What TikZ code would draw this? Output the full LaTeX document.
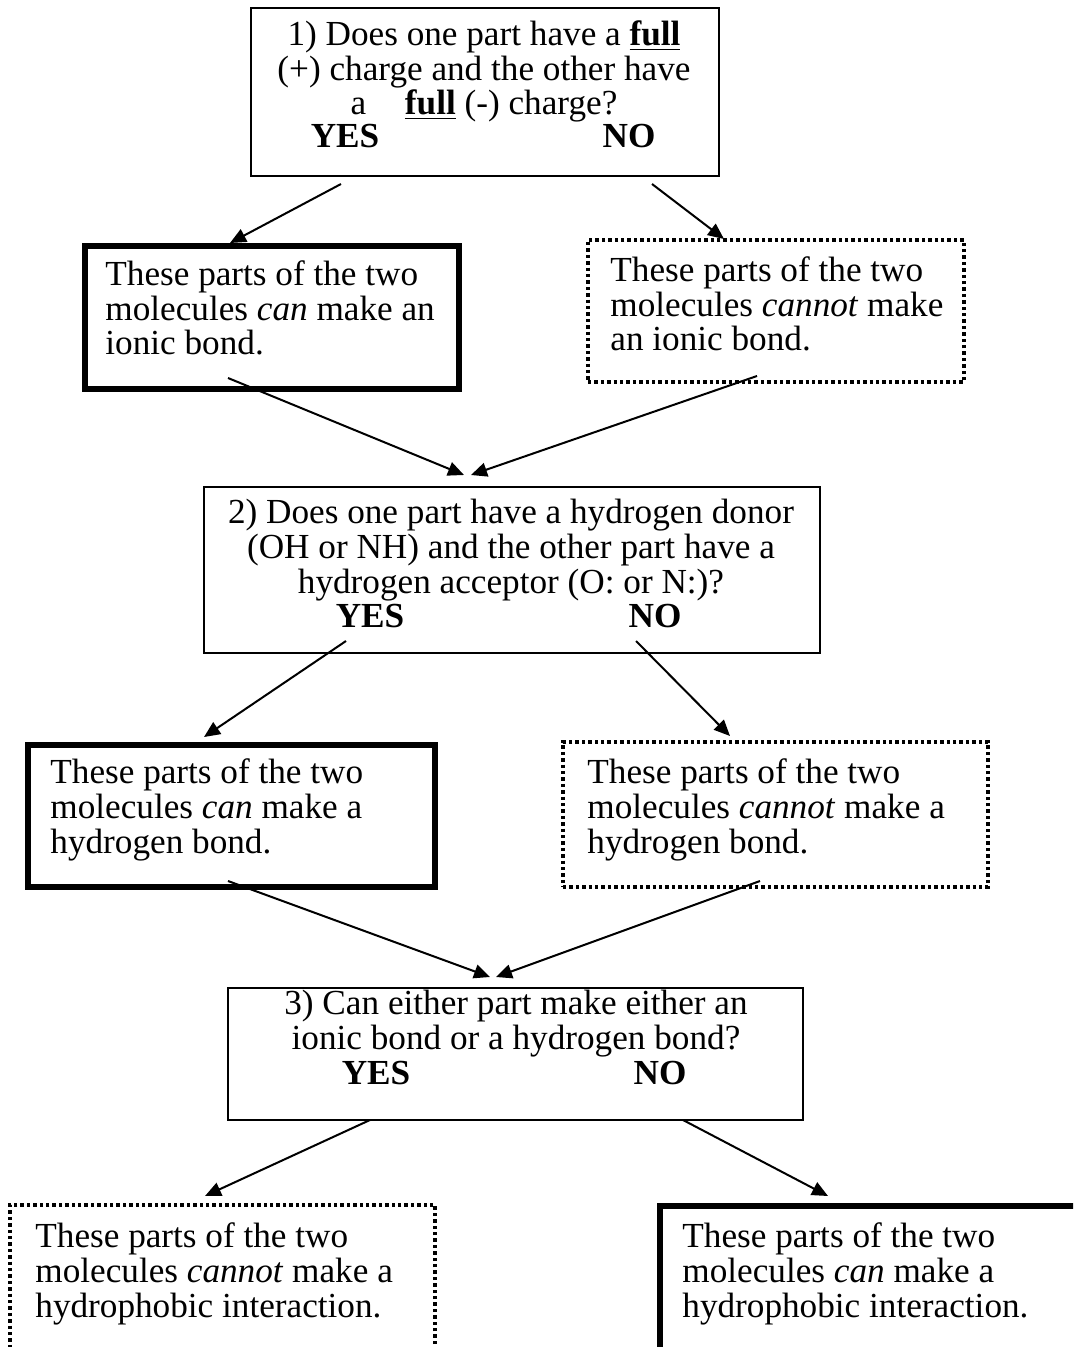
\documentclass[tikz,border=0pt]{standalone}
\usepackage{fontspec}
\setmainfont{Liberation Serif}
\usepackage{tikz}
\usetikzlibrary{arrows.meta}
\tikzset{
  qBox/.style={draw,line width=1pt,inner sep=0pt,outer sep=0pt,anchor=north west},
  canBox/.style={qBox,line width=3pt},
  cannotBox/.style={qBox,line width=1.9pt,dash pattern=on 1.7pt off 1.5pt},
  qText/.style={font=\fontsize{17.6}{17.3}\selectfont,align=center,inner sep=0pt,anchor=base},
  bText/.style={font=\fontsize{17.6}{17.3}\selectfont,align=left,inner sep=0pt,anchor=base west},
  ynText/.style={font=\fontsize{17.6}{17.3}\selectfont\bfseries,inner sep=0pt,anchor=base},
  arr/.style={line width=1pt,-{Triangle[length=8pt,width=7pt]}},
}

\begin{document}
\begin{tikzpicture}[x=.5pt,y=-.5pt]
\useasboundingbox (0,0) rectangle (1073,1347);
\clip (0,0) rectangle (1073,1347);
% question 1
\node[qBox,minimum width=234pt,minimum height=84pt] (q1) at (251,8) {};
\node[qText] (q1txt) at (484,115) {1) Does one part have a \underline{\textbf{full}}\\
  (+) charge and the other have\\ a\hspace{1.1em}\underline{\textbf{full}} (-) charge?};
\node[ynText] (yes1) at (345,148) {YES};
\node[ynText] (no1) at (629,148) {NO};
\node[canBox,minimum width=187pt,minimum height=71.5pt] (ionicCan) at (85,246) {};
\node[bText] (ionicCanTxt) at (105,355) {These parts of the two\\
  molecules \textit{can} make an\\ ionic bond.};
\node[cannotBox,minimum width=188pt,minimum height=71pt] (ionicCannot) at (588,240) {};
\node[bText] (ionicCannotTxt) at (610,351) {These parts of the two\\
  molecules \textit{cannot} make\\ an ionic bond.};
% question 2
\node[qBox,minimum width=308pt,minimum height=83pt] (q2) at (204,487) {};
\node[qText] (q2txt) at (511,593) {2) Does one part have a hydrogen donor\\
  (OH or NH) and the other part have a\\ hydrogen acceptor (O: or N:)?};
\node[ynText] (yes2) at (370,627) {YES};
\node[ynText] (no2) at (655,627) {NO};
\node[canBox,minimum width=203.5pt,minimum height=71pt] (hbondCan) at (28,745) {};
\node[bText] (hbondCanTxt) at (50,853) {These parts of the two\\
  molecules \textit{can} make a\\ hydrogen bond.};
\node[cannotBox,minimum width=212.5pt,minimum height=72.5pt] (hbondCannot) at (563,742) {};
\node[bText] (hbondCannotTxt) at (587,853) {These parts of the two\\
  molecules \textit{cannot} make a\\ hydrogen bond.};
% question 3
\node[qBox,minimum width=287.5pt,minimum height=66pt] (q3) at (228,988) {};
\node[qText] (q3txt) at (516,1049) {3) Can either part make either an\\
  ionic bond or a hydrogen bond?};
\node[ynText] (yes3) at (376,1084) {YES};
\node[ynText] (no3) at (660,1084) {NO};
\node[cannotBox,minimum width=212.5pt,minimum height=87.5pt] (hydroCannot) at (10,1205) {};
\node[bText] (hydroCannotTxt) at (35,1317) {These parts of the two\\
  molecules \textit{cannot} make a\\ hydrophobic interaction.};
\node[canBox,minimum width=220pt,minimum height=87pt] (hydroCan) at (660,1206) {};
\node[bText] (hydroCanTxt) at (682,1317) {These parts of the two\\
  molecules \textit{can} make a\\ hydrophobic interaction.};
% arrows
\draw[arr] ([shift={(90,8)}]q1.south west) -- ([shift={(145,-3)}]ionicCan.north west);
\draw[arr] ([shift={(401,8)}]q1.south west) -- ([shift={(136,-1)}]ionicCannot.north west);
\draw[arr] ([shift={(143,-11)}]ionicCan.south west) -- ([shift={(260,-12)}]q2.north west);
\draw[arr] ([shift={(169,-6)}]ionicCannot.south west) -- ([shift={(267,-12)}]q2.north west);
\draw[arr] ([shift={(142,-12)}]q2.south west) -- ([shift={(176,-8)}]hbondCan.north west);
\draw[arr] ([shift={(432,-12)}]q2.south west) -- ([shift={(167,-6)}]hbondCannot.north west);
\draw[arr] ([shift={(200,-6)}]hbondCan.south west) -- ([shift={(262,-11)}]q3.north west);
\draw[arr] ([shift={(197,-6)}]hbondCannot.south west) -- ([shift={(268,-11)}]q3.north west);
\draw[arr] ([shift={(142,0)}]q3.south west) -- ([shift={(195,-9)}]hydroCannot.north west);
\draw[arr] ([shift={(455,0)}]q3.south west) -- ([shift={(168,-10)}]hydroCan.north west);
\end{tikzpicture}
\end{document}
